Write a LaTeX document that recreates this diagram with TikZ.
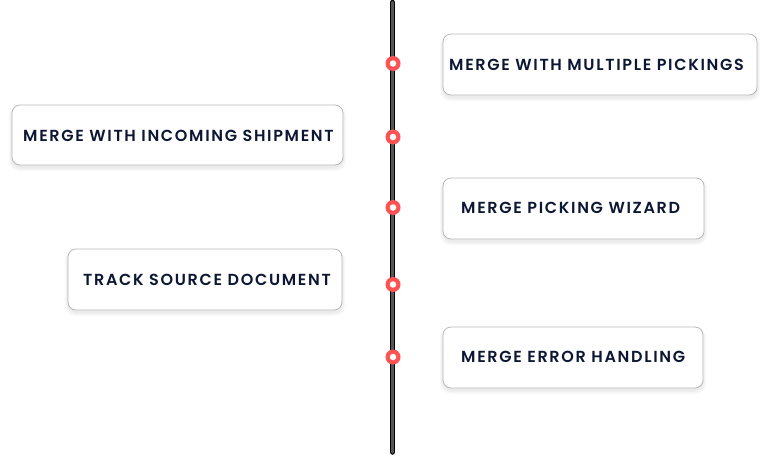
\documentclass[tikz,border=0pt]{standalone}
\usepackage{fontspec}
\newfontfamily\lbl{Poppins SemiBold}[LetterSpace=10.5]
\usetikzlibrary{positioning}
\definecolor{ink}{HTML}{0D1733}
\definecolor{dotred}{HTML}{FF5252}
\definecolor{boxline}{HTML}{B8B8B8}
\definecolor{axis}{HTML}{555555}
\tikzset{
  card/.style={draw=boxline, line width=0.8pt, fill=white, rounded corners=8pt},
  cardshadow/.style={fill=black, opacity=0.02, rounded corners=10pt},
  lab/.style={text=ink, font=\lbl\fontsize{16}{18}\selectfont, anchor=west, inner sep=0pt},
  ring/.style={circle, fill=dotred, minimum size=15pt, inner sep=0pt},
  hole/.style={circle, fill=white, minimum size=6.5pt, inner sep=0pt},
}
\newcommand{\cardat}[5]{% name, x1, y1, x2, y2
  \foreach \s in {1,2,3,4}{
    \fill[cardshadow] (#2-\s*0.8, #3-\s*0.4+2) rectangle (#4+\s*0.8, #5+\s*1.0+2);
  }
  \draw[card] (#2,#3) rectangle (#4,#5);
  \coordinate (#1) at (#2,{(#3+#5)/2});
}
\begin{document}
\begin{tikzpicture}[x=1pt,y=-1pt]
\useasboundingbox (0,0) rectangle (770,455);
% axis
\coordinate (top) at (392.5,2.5);
\coordinate (bot) at (392.5,452);
\draw[line width=5.5pt, black, line cap=round] (top) -- (bot);
\draw[line width=3.5pt, axis, line cap=round] (top) -- (bot);
% cards
\cardat{c1}{443}{34}{757}{95}
\cardat{c2}{12}{105}{343}{165}
\cardat{c3}{443}{178}{704}{239}
\cardat{c4}{68}{249}{342}{310}
\cardat{c5}{443}{327}{703}{388}
\node[lab, anchor=base west] (t1) at (449,70.8) {MERGE WITH MULTIPLE PICKINGS};
\node[lab, anchor=base west] (t2) at (23,141.8) {MERGE WITH INCOMING SHIPMENT};
\node[lab, anchor=base west] (t3) at (461,213.6) {MERGE PICKING WIZARD};
\node[lab, anchor=base west] (t4) at (83,285.8) {TRACK SOURCE DOCUMENT};
\node[lab, anchor=base west] (t5) at (461,362.8) {MERGE ERROR HANDLING};
% dots
\foreach \n/\y in {d1/63.5,d2/137,d3/207.5,d4/284.5,d5/357}{
  \node[ring] (\n) at (393,\y) {};
  \node[hole] at (\n) {};
}
\end{tikzpicture}
\end{document}
